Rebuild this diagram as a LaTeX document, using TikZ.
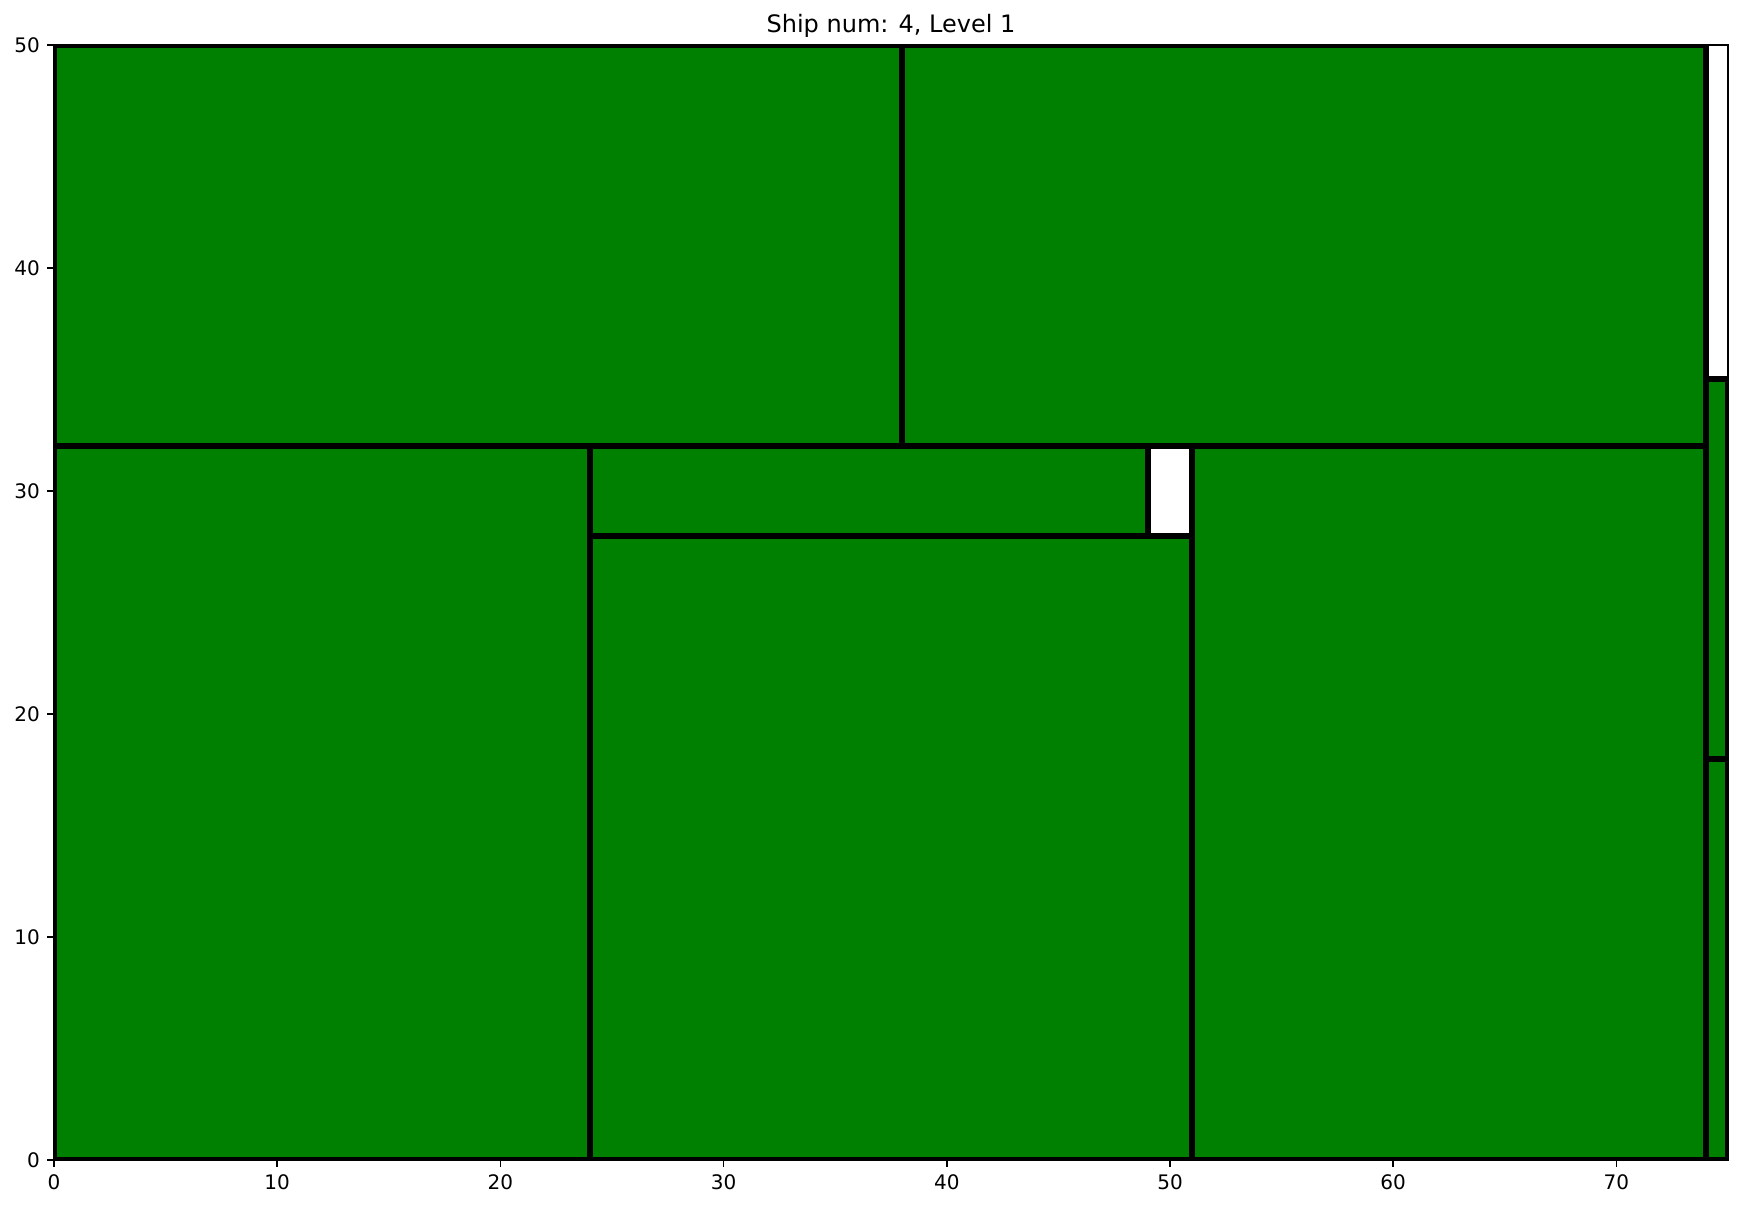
\documentclass[tikz,border=0pt]{standalone}
\usepackage{fontspec}
\setmainfont{DejaVu Sans}
\definecolor{mplgreen}{HTML}{008000}
\begin{document}
\begin{tikzpicture}[x=1pt,y=1pt,
  room/.style={fill=mplgreen,draw=black,line width=6pt},
  spine/.style={draw=black,line width=1.6pt},
  tick/.style={draw=black,line width=1.6pt},
  ticklabel/.style={font=\fontsize{20}{24}\selectfont,inner sep=0pt},
]
\useasboundingbox (0,0) rectangle (1745,1208);
\begin{scope}[shift={(54,48)},x=22.32pt,y=22.3pt]
  \begin{scope}
    \clip (0,0) rectangle (75,50);
    \draw[room] (0,32) rectangle (38,50);
    \draw[room] (38,32) rectangle (74,50);
    \draw[room] (0,0) rectangle (24,32);
    \draw[room] (24,28) rectangle (49,32);
    \draw[room] (24,0) rectangle (51,28);
    \draw[room] (51,0) rectangle (74,32);
    \draw[room] (74,18) rectangle (75,35);
    \draw[room] (74,0) rectangle (75,18);
  \end{scope}
  \draw[spine] (0,0) rectangle (75,50);
  \foreach \t in {0,10,...,70}{
    \draw[tick] (\t,0) -- ++(0,-7pt);
    \node[ticklabel,anchor=north] (xl\t) at ([yshift=-14pt]\t,0) {\t};
  }
  \foreach \t in {0,10,...,50}{
    \draw[tick] (0,\t) -- ++(-7pt,0);
    \node[ticklabel,anchor=east] (yl\t) at ([xshift=-14pt]0,\t) {\t};
  }
  \node[font=\fontsize{24}{28}\selectfont,inner sep=0pt,anchor=base] (title) at ([yshift=12pt]37.5,50) {Ship num: 4, Level 1};
\end{scope}
\end{tikzpicture}
\end{document}
